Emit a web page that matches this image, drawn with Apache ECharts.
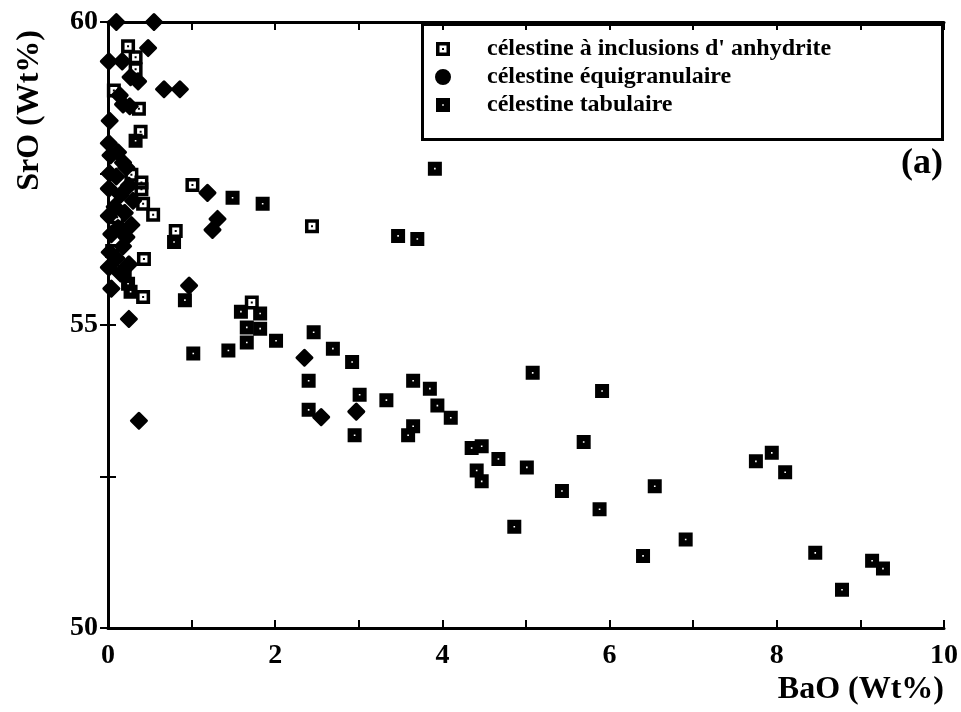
<!DOCTYPE html>
<html>
<head>
<meta charset="utf-8">
<script src="https://cdn.jsdelivr.net/npm/echarts@6/dist/echarts.min.js"></script>
<style>
  html, body { margin: 0; padding: 0; background: #fff; }
  #chart { width: 961px; height: 712px; }
</style>
</head>
<body>
<div id="chart"></div>
<script>
// BaO (x) / SrO (y), Wt%
const inclusions = [
  [0.24, 59.60], [0.33, 59.42], [0.33, 59.22], [0.07, 58.87], [0.37, 58.57],
  [0.39, 58.19], [0.28, 57.48], [0.40, 57.35], [0.40, 57.24], [0.42, 57.00],
  [0.54, 56.82], [0.11, 56.78], [0.81, 56.55], [1.01, 57.31], [2.44, 56.63],
  [0.05, 56.22], [0.43, 56.09], [0.42, 55.46], [1.72, 55.37]
];
const equigranulaire = [
  [0.10, 60.00], [0.55, 60.00], [0.48, 59.57], [0.01, 59.35], [0.17, 59.35],
  [0.27, 59.09], [0.36, 59.02], [0.67, 58.89], [0.86, 58.89], [0.14, 58.79],
  [0.18, 58.64], [0.26, 58.61], [0.02, 58.37], [0.01, 58.00], [0.03, 57.80],
  [0.18, 57.68], [0.12, 57.85], [0.22, 57.60], [0.02, 57.50], [0.10, 57.45],
  [0.25, 57.30], [0.01, 57.25], [0.15, 57.15], [0.30, 57.05], [0.08, 56.95],
  [0.20, 56.85], [0.01, 56.80], [0.28, 56.65], [0.12, 56.60], [0.22, 56.45],
  [0.04, 56.50], [0.18, 56.30], [0.02, 56.20], [0.10, 56.10], [0.25, 56.00],
  [0.15, 55.85], [0.01, 55.95], [0.04, 55.60], [0.25, 55.10], [0.37, 53.42],
  [1.19, 57.18], [1.31, 56.75], [1.25, 56.57], [0.97, 55.65], [2.35, 54.46],
  [2.55, 53.48], [2.97, 53.57]
];
const tabulaire = [
  [3.91, 57.58], [1.49, 57.10], [1.85, 57.00], [0.79, 56.37], [3.47, 56.47],
  [3.70, 56.42], [0.92, 55.41], [1.59, 55.22], [1.82, 55.19], [1.66, 54.96],
  [1.82, 54.94], [1.66, 54.71], [2.01, 54.74], [1.02, 54.53], [1.44, 54.58],
  [2.46, 54.88], [2.69, 54.61], [2.92, 54.39], [2.40, 54.08], [2.40, 53.60],
  [3.01, 53.85], [2.95, 53.18], [3.33, 53.76], [3.65, 54.08], [3.85, 53.95],
  [3.94, 53.67], [4.10, 53.47], [3.65, 53.33], [3.59, 53.18], [5.08, 54.21],
  [5.91, 53.91], [4.35, 52.97], [4.47, 53.00], [4.67, 52.79], [4.41, 52.60],
  [4.47, 52.42], [5.01, 52.65], [5.69, 53.07], [5.43, 52.26], [5.88, 51.96],
  [4.86, 51.67], [6.40, 51.19], [6.54, 52.34], [6.91, 51.46], [7.94, 52.89],
  [7.75, 52.75], [8.10, 52.57], [8.46, 51.24], [9.14, 51.11], [9.27, 50.98],
  [8.78, 50.63], [0.33, 58.04], [0.20, 55.88], [0.24, 55.68], [0.27, 55.55]
];
const xTicks = ['0', '2', '4', '6', '8', '10'];
const yTicks = ['50', '55', '60'];
const seriesNames = [
  "célestine à inclusions d' anhydrite",
  'célestine équigranulaire',
  'célestine tabulaire'
];

const FONT = "'Liberation Serif', 'Times New Roman', serif";
const openSquare = 'path://M0,0 L14,0 L14,14 L0,14 Z M3.5,3.5 L3.5,10.5 L10.5,10.5 L10.5,3.5 Z M6,6 L8,6 L8,8 L6,8 Z';
const dotSquare = 'path://M0,0 L14,0 L14,14 L0,14 Z M6.2,6.2 L6.2,7.8 L7.8,7.8 L7.8,6.2 Z';

const chart = echarts.init(document.getElementById('chart'));

const axisLine = { show: true, lineStyle: { color: '#000', width: 3 } };
const axisTick = { show: true, inside: true, length: 8, lineStyle: { color: '#000', width: 2 } };
const labelStyle = { color: '#000', fontFamily: FONT, fontWeight: 'bold', fontSize: 28 };

const option = {
  backgroundColor: '#fff',
  animation: false,
  grid: { left: 108, right: 16, top: 22, bottom: 84 },
  legend: {
    orient: 'vertical',
    left: 430,
    top: 32,
    itemWidth: 14,
    itemHeight: 14,
    itemGap: 4,
    textStyle: { color: '#000', fontFamily: FONT, fontWeight: 'bold', fontSize: 24, padding: [0, 0, 0, 32] },
    data: [
      { name: seriesNames[0], icon: openSquare },
      { name: seriesNames[1], icon: 'circle' },
      { name: seriesNames[2], icon: dotSquare }
    ]
  },
  graphic: [
    { type: 'rect', left: 420, top: 22, shape: { width: 520, height: 115 },
      style: { fill: 'none', stroke: '#000', lineWidth: 3 }, z: 10 },
    { type: 'text', right: 18, top: 146,
      style: { text: '(a)', fill: '#000', font: 'bold 36px ' + FONT }, z: 10 },
    { type: 'text', left: 14, top: 30, rotation: Math.PI / 2,
      style: { text: 'SrO (Wt%)', fill: '#000', font: 'bold 32px ' + FONT }, z: 10 }
  ],
  xAxis: [
    {
      type: 'value', min: 0, max: 10, interval: 1,
      axisLine, axisTick, splitLine: { show: false },
      axisLabel: Object.assign({}, labelStyle, {
        margin: 14,
        formatter: v => (xTicks.indexOf(String(v)) >= 0 ? String(v) : '')
      }),
      name: 'BaO (Wt%)',
      nameLocation: 'end',
      nameGap: 0,
      nameTextStyle: {
        color: '#000', fontFamily: FONT, fontWeight: 'bold', fontSize: 32,
        align: 'right', verticalAlign: 'top', padding: [46, 0, 0, 0]
      }
    },
    {
      type: 'value', min: 0, max: 10, interval: 1, position: 'top',
      axisLine, axisTick, axisLabel: { show: false }, splitLine: { show: false }
    }
  ],
  yAxis: [
    {
      type: 'value', min: 50, max: 60, interval: 2.5,
      axisLine, axisTick, splitLine: { show: false },
      axisLabel: Object.assign({}, labelStyle, {
        margin: 10,
        formatter: v => (yTicks.indexOf(String(v)) >= 0 ? String(v) : '')
      })
    },
    {
      type: 'value', min: 50, max: 60, interval: 2.5, position: 'right',
      axisLine, axisTick, axisLabel: { show: false }, splitLine: { show: false }
    }
  ],
  series: [
    {
      name: seriesNames[1], type: 'scatter', data: equigranulaire,
      symbol: 'diamond', symbolSize: 15,
      itemStyle: { color: '#000', opacity: 1, borderColor: '#000', borderWidth: 3, borderJoin: 'round' },
      z: 3
    },
    {
      name: seriesNames[0], type: 'scatter', data: inclusions,
      symbol: openSquare, symbolSize: 14,
      itemStyle: { color: '#000', opacity: 1 }, z: 4
    },
    {
      name: seriesNames[2], type: 'scatter', data: tabulaire,
      symbol: dotSquare, symbolSize: 14,
      itemStyle: { color: '#000', opacity: 1 }, z: 5
    }
  ]
};

chart.setOption(option);
</script>
</body>
</html>
